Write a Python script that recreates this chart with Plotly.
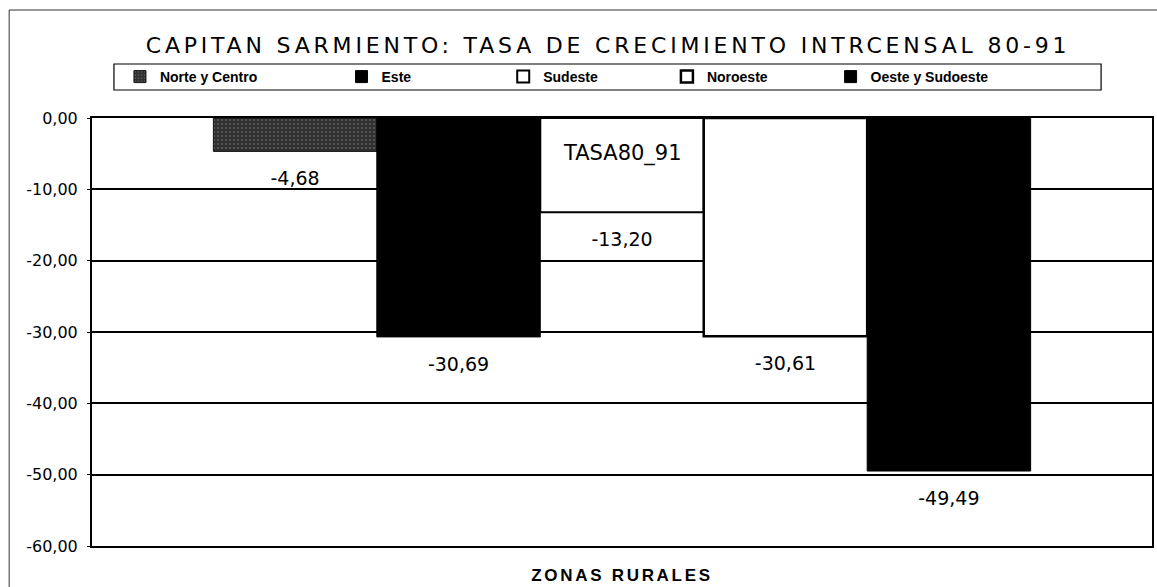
import plotly.graph_objects as go

# ---- data ----
CATEGORIES = ["TASA80_91"]
SERIES = ["Norte y Centro", "Este", "Sudeste", "Noroeste", "Oeste y Sudoeste"]
VALUES = [-4.68, -30.69, -13.20, -30.61, -49.49]
Y_TICKS = [0, -10, -20, -30, -40, -50, -60]
Y_TICK_LABELS = ["0,00", "-10,00", "-20,00", "-30,00", "-40,00", "-50,00", "-60,00"]

TITLE = "CAPITAN SARMIENTO: TASA DE CRECIMIENTO INTRCENSAL 80-91"
X_TITLE = "ZONAS RURALES"

# ---- styles ----
W, H = 1157, 587
ML, MR, MT, MB = 92, 3, 118, 41
PW, PH = W - ML - MR, H - MT - MB
BARGAP = 0.229

def px_x(px):
    return (px - ML) / PW

def px_y(py):
    return (H - MB - py) / PH

styles = [
    dict(color="#333333", line=dict(color="#111111", width=1),
         pattern=dict(shape=".", fgcolor="#8a8a8a", bgcolor="#303030", size=4, solidity=0.22)),
    dict(color="#000000", line=dict(color="#000000", width=1)),
    dict(color="#ffffff", line=dict(color="#000000", width=2)),
    dict(color="#ffffff", line=dict(color="#000000", width=2.5)),
    dict(color="#000000", line=dict(color="#000000", width=1)),
]
legend_text_x = [160, 382, 544, 708, 872]

fig = go.Figure()
for i, (name, val) in enumerate(zip(SERIES, VALUES)):
    lg = "legend" if i == 0 else f"legend{i+1}"
    fig.add_trace(go.Bar(
        x=CATEGORIES, y=[val], name=name,
        marker=styles[i],
        offsetgroup=str(i), alignmentgroup="g",
        legend=lg,
    ))
# value labels, grouped like the bars (invisible marker sets the gap below the bar end)
for i, (name, val) in enumerate(zip(SERIES, VALUES)):
    fig.add_trace(go.Scatter(
        x=CATEGORIES, y=[val], mode="markers+text",
        texttemplate="%{y:.2f}", textposition="bottom center",
        textfont=dict(family="DejaVu Sans", size=19, color="#000000"),
        marker=dict(size=30, color="rgba(0,0,0,0)", line=dict(width=0)),
        offsetgroup=str(i), alignmentgroup="g",
        showlegend=False, hoverinfo="skip", cliponaxis=False,
    ))

legend_common = dict(
    orientation="h", yanchor="middle", xanchor="left",
    y=px_y(77), bgcolor="rgba(0,0,0,0)", borderwidth=0,
    font=dict(family="Liberation Sans", size=14, color="#000000", weight="bold"),
    itemwidth=30,
)
layout_legends = {}
for i, tx in enumerate(legend_text_x):
    key = "legend" if i == 0 else f"legend{i+1}"
    layout_legends[key] = dict(legend_common, x=px_x(tx - 40))

fig.update_layout(
    width=W, height=H,
    margin=dict(l=ML, r=MR, t=MT, b=MB),
    paper_bgcolor="#ffffff", plot_bgcolor="#ffffff",
    separators=",.",
    barmode="group", bargap=BARGAP, bargroupgap=0,
    scattermode="group", scattergap=BARGAP,
    showlegend=True,
    hovermode=False,
    title=dict(
        text=f'<span style="letter-spacing:3.8px">{TITLE}</span>',
        xref="paper", x=px_x(609), xanchor="center",
        yref="container", y=1 - 45 / H, yanchor="middle",
        font=dict(family="DejaVu Sans", size=22, color="#000000"),
    ),
    xaxis=dict(
        showticklabels=False, ticks="",
        showline=True, linecolor="#000000", linewidth=2, mirror=True,
        title=dict(text=f'<span style="letter-spacing:2.7px">{X_TITLE}</span>', standoff=22,
                   font=dict(family="Liberation Sans", size=17, color="#000000", weight="bold")),
    ),
    yaxis=dict(
        range=[-60, 0], tickvals=Y_TICKS, ticktext=Y_TICK_LABELS,
        showgrid=True, gridcolor="#000000", gridwidth=2,
        zeroline=False,
        showline=True, linecolor="#000000", linewidth=2, mirror=True,
        ticks="outside", ticklen=3, tickcolor="#000000",
        ticklabelstandoff=6,
        tickfont=dict(family="DejaVu Sans", size=16, color="#000000"),
    ),
    **layout_legends,
)

# category label (drawn inside the plot next to the zero axis, as in the source)
fig.add_annotation(
    x=CATEGORIES[0], y=-5.0, xref="x", yref="y", text=CATEGORIES[0],
    showarrow=False, font=dict(family="DejaVu Sans", size=21, color="#000000"),
)

# legend box and outer chart frame
fig.add_shape(type="rect", xref="paper", yref="paper",
              x0=px_x(114), x1=px_x(1103), y0=px_y(90), y1=px_y(64),
              line=dict(color="#000000", width=1.2), fillcolor="rgba(0,0,0,0)", layer="below")
fig.add_shape(type="rect", xref="paper", yref="paper",
              x0=px_x(9), x1=px_x(1170), y0=px_y(600), y1=px_y(10),
              line=dict(color="#333333", width=1), fillcolor="rgba(0,0,0,0)", layer="below")

fig.write_html("out.html", config={"displayModeBar": False},
               post_script="document.body.style.margin='0';")
